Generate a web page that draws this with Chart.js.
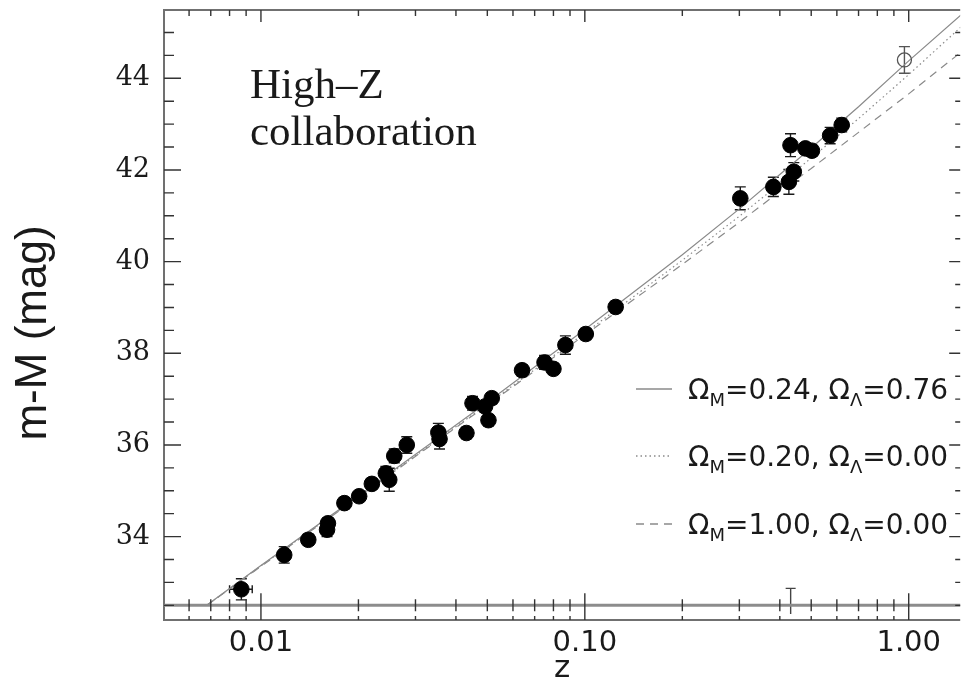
<!DOCTYPE html>
<html>
<head>
<meta charset="utf-8">
<title>High-Z collaboration Hubble diagram</title>
<script src="https://cdn.jsdelivr.net/npm/chart.js@4.4.1/dist/chart.umd.min.js"></script>
<style>
  html, body { margin: 0; padding: 0; background: #fff; overflow: hidden; }
  #wrap { width: 969px; height: 684px; }
  #hubble { display: block; }
</style>
</head>
<body>
<div id="wrap"><canvas id="hubble" width="969" height="684"></canvas></div>
<script>
// ── Data ──────────────────────────────────────────────────────────────────────
// supernovae, filled circles
const snZ   = [0.0087, 0.0118, 0.0140, 0.0160, 0.0161, 0.0181, 0.0201, 0.0220, 0.0243, 0.0249,
               0.0258, 0.0282, 0.0353, 0.0356, 0.0431, 0.0450, 0.0492, 0.0504, 0.0516, 0.0640,
               0.0751, 0.0800, 0.0871, 0.1007, 0.1245, 0.302, 0.382, 0.4266, 0.4418, 0.4315,
               0.4797, 0.5026, 0.572, 0.621];
const snMu  = [32.85, 33.60, 33.93, 34.15, 34.29, 34.73, 34.88, 35.15, 35.38, 35.24,
               35.76, 36.00, 36.27, 36.13, 36.26, 36.91, 36.84, 36.54, 37.02, 37.63,
               37.80, 37.66, 38.18, 38.42, 39.01, 41.38, 41.63, 41.74, 41.96, 42.54,
               42.47, 42.42, 42.75, 42.98];
const snErr = [0.23, 0.18, 0.12, 0.15, 0.12, 0.12, 0.10, 0.12, 0.15, 0.25,
               0.15, 0.18, 0.20, 0.22, 0.12, 0.15, 0.12, 0.12, 0.12, 0.12,
               0.15, 0.12, 0.20, 0.12, 0.12, 0.25, 0.21, 0.27, 0.20, 0.25,
               0.12, 0.12, 0.18, 0.15];
const snZErr = [0.0007, 0.0005];   // only the nearest ones show a z error bar

// open circle
const openZ   = [0.970];
const openMu  = [44.40];
const openErr = [0.29];

// error bar poking up from the (cropped) lower panel
const cutZ   = [0.432];
const cutTop = [32.87];

// model curves
const modelZ   = [0.0068, 0.01, 0.02, 0.05, 0.1, 0.2, 0.3, 0.4, 0.5, 0.7, 1.0, 1.45];
const muLambda = [32.50, 33.37, 34.89, 36.93, 38.52, 40.15, 41.15, 41.90, 42.48, 43.38, 44.38, 45.38];
const muOpen   = [32.50, 33.36, 34.87, 36.89, 38.44, 40.03, 40.99, 41.70, 42.26, 43.12, 44.08, 45.12];
const muEdS    = [32.50, 33.35, 34.86, 36.87, 38.40, 39.94, 40.86, 41.53, 42.03, 42.82, 43.66, 44.57];
const modelLabels = ['Ω_M=0.24, Ω_Λ=0.76', 'Ω_M=0.20, Ω_Λ=0.00', 'Ω_M=1.00, Ω_Λ=0.00'];

// axes
const xMajorTicks = [0.01, 0.1, 1];
const xTickLabels = ['0.01', '0.10', '1.00'];
const xMinorTicks = [0.006, 0.007, 0.008, 0.009,
                     0.02, 0.03, 0.04, 0.05, 0.06, 0.07, 0.08, 0.09,
                     0.2, 0.3, 0.4, 0.5, 0.6, 0.7, 0.8, 0.9];
const yMajorTicks = [34, 36, 38, 40, 42, 44];
const yMinorTicks = [32.5, 33, 33.5, 34.5, 35, 35.5, 36.5, 37, 37.5, 38.5, 39, 39.5,
                     40.5, 41, 41.5, 42.5, 43, 43.5, 44.5, 45];
const xMin = 0.00502, xMax = 1.442;
const yMin = 32.18, yMax = 45.49;
const baseLine = 32.5;   // grey rule the lower panel started on

// ── Style ─────────────────────────────────────────────────────────────────────
const INK = '#1a1a1a';
const FRAME = '#707070';
const MODEL = '#8a8a8a';
const modelDash = [[], [1.5, 3], [8, 6]];

const pts = (xs, ys) => xs.map((x, i) => ({ x, y: ys[i] }));

// ── Helpers ───────────────────────────────────────────────────────────────────
// split 'Ω_M=0.24' into runs, '_' puts the next char in subscript
function runs(str) {
    const out = [];
    let buf = '';
    for (let i = 0; i < str.length; i++) {
        if (str[i] === '_') {
            if (buf) out.push({ t: buf, sub: false });
            out.push({ t: str[++i], sub: true });
            buf = '';
        } else buf += str[i];
    }
    if (buf) out.push({ t: buf, sub: false });
    return out;
}

function drawRich(ctx, str, x, y, size, subSize) {
    for (const r of runs(str)) {
        ctx.font = `${r.sub ? subSize : size}px "DejaVu Sans"`;
        ctx.fillText(r.t, x, r.sub ? y + 7 : y);
        x += ctx.measureText(r.t).width;
    }
}

// ── Plugins ───────────────────────────────────────────────────────────────────
const errorBars = {
    id: 'errorBars',
    beforeDatasetsDraw(chart) {
        const { ctx, chartArea: a, scales: { x, y } } = chart;
        ctx.save();
        ctx.beginPath();
        ctx.rect(a.left, a.top, a.right - a.left, a.bottom - a.top);
        ctx.clip();
        const cap = 5.5;
        const draw = (zs, mus, errs, col) => {
            ctx.strokeStyle = col;
            ctx.lineWidth = 1.4;
            zs.forEach((z, i) => {
                const px = x.getPixelForValue(z);
                const hi = y.getPixelForValue(mus[i] + errs[i]);
                const lo = y.getPixelForValue(mus[i] - errs[i]);
                ctx.beginPath();
                ctx.moveTo(px, hi); ctx.lineTo(px, lo);
                ctx.moveTo(px - cap, hi); ctx.lineTo(px + cap, hi);
                ctx.moveTo(px - cap, lo); ctx.lineTo(px + cap, lo);
                ctx.stroke();
            });
        };
        draw(snZ, snMu, snErr, INK);
        draw(openZ, openMu, openErr, '#555');

        // horizontal (z) error bars
        ctx.strokeStyle = INK;
        snZErr.forEach((e, i) => {
            const py = y.getPixelForValue(snMu[i]);
            const l = x.getPixelForValue(snZ[i] - e);
            const r = x.getPixelForValue(snZ[i] + e);
            ctx.beginPath();
            ctx.moveTo(l, py); ctx.lineTo(r, py);
            ctx.moveTo(l, py - 4); ctx.lineTo(l, py + 4);
            ctx.moveTo(r, py - 4); ctx.lineTo(r, py + 4);
            ctx.stroke();
        });

        // stray bar from the panel below, cap on top only
        ctx.strokeStyle = '#444';
        cutZ.forEach((z, i) => {
            const px = x.getPixelForValue(z);
            const hi = y.getPixelForValue(cutTop[i]);
            ctx.beginPath();
            ctx.moveTo(px, hi); ctx.lineTo(px, a.bottom - 6);
            ctx.moveTo(px - 5, hi); ctx.lineTo(px + 5, hi);
            ctx.stroke();
        });
        ctx.restore();
    }
};

const frame = {
    id: 'frame',
    afterDraw(chart) {
        const { ctx, chartArea: a, scales: { x, y } } = chart;
        const base = y.getPixelForValue(baseLine);
        ctx.save();

        // frame: left, top, bottom (right edge is cut by the crop)
        ctx.strokeStyle = FRAME;
        ctx.lineWidth = 2;
        ctx.beginPath();
        ctx.moveTo(a.right, a.top); ctx.lineTo(a.left, a.top);
        ctx.lineTo(a.left, a.bottom); ctx.lineTo(a.right, a.bottom);
        ctx.stroke();

        // thick grey rule at the foot of the panel
        ctx.strokeStyle = '#8c8c8c';
        ctx.lineWidth = 3;
        ctx.beginPath();
        ctx.moveTo(a.left, base); ctx.lineTo(a.right, base);
        ctx.stroke();

        // x ticks: top frame, on the rule, on the bottom frame
        ctx.strokeStyle = '#333';
        ctx.lineWidth = 1.4;
        const xt = (v, major) => {
            const px = x.getPixelForValue(v);
            ctx.beginPath();
            ctx.moveTo(px, a.top); ctx.lineTo(px, a.top + (major ? 12 : 6));
            if (major) { ctx.moveTo(px, base - 12); ctx.lineTo(px, a.bottom); }
            else {
                ctx.moveTo(px, base - 6); ctx.lineTo(px, base + 6);
                ctx.moveTo(px, a.bottom); ctx.lineTo(px, a.bottom - 4);
            }
            ctx.stroke();
        };
        xMinorTicks.forEach(v => xt(v, false));
        xMajorTicks.forEach(v => xt(v, true));

        // y ticks, inward on both sides
        const yt = (v, major) => {
            const py = y.getPixelForValue(v);
            ctx.beginPath();
            ctx.moveTo(a.left, py); ctx.lineTo(a.left + (major ? 17 : 10), py);
            ctx.moveTo(a.right, py); ctx.lineTo(a.right - (major ? 11 : 5), py);
            ctx.stroke();
        };
        yMinorTicks.forEach(v => yt(v, false));
        yMajorTicks.forEach(v => yt(v, true));

        // y title
        ctx.fillStyle = INK;
        ctx.font = '44px "Liberation Sans"';
        ctx.textAlign = 'center';
        ctx.textBaseline = 'middle';
        ctx.translate(34, 333);
        ctx.rotate(-Math.PI / 2);
        ctx.fillText('m-M (mag)', 0, 0);
        ctx.setTransform(1, 0, 0, 1, 0, 0);

        // annotation
        ctx.textAlign = 'left';
        ctx.textBaseline = 'alphabetic';
        ctx.font = '43px "Liberation Serif"';
        ctx.fillText('High–Z', 250, 98);
        ctx.fillText('collaboration', 250, 145);

        // legend
        const rows = [399, 466, 534];
        rows.forEach((by, i) => {
            ctx.strokeStyle = MODEL;
            ctx.lineWidth = 1.3;
            ctx.setLineDash(modelDash[i]);
            ctx.beginPath();
            ctx.moveTo(636, by - 10); ctx.lineTo(672, by - 10);
            ctx.stroke();
            ctx.setLineDash([]);
            ctx.fillStyle = INK;
            drawRich(ctx, modelLabels[i], 688, by, 28, 18);
        });
        ctx.restore();
    }
};

// ── Chart ─────────────────────────────────────────────────────────────────────
const modelSet = (ys, i) => ({
    label: modelLabels[i],
    data: pts(modelZ, ys),
    showLine: true,
    pointRadius: 0,
    borderColor: MODEL,
    borderWidth: 1.2,
    borderDash: modelDash[i],
    order: 3
});

new Chart(document.getElementById('hubble'), {
    type: 'scatter',
    data: {
        datasets: [
            {
                label: 'SNe Ia',
                data: pts(snZ, snMu),
                pointRadius: 7.8,
                pointBackgroundColor: '#000',
                pointBorderColor: '#000',
                order: 1
            },
            {
                label: 'open',
                data: pts(openZ, openMu),
                pointRadius: 7,
                pointBackgroundColor: 'rgba(0,0,0,0)',
                pointBorderColor: '#555',
                pointBorderWidth: 1.3,
                order: 2
            },
            modelSet(muLambda, 0),
            modelSet(muOpen, 1),
            modelSet(muEdS, 2)
        ]
    },
    options: {
        responsive: false,
        animation: false,
        layout: { padding: { top: 10, right: 0, bottom: 0, left: 0 } },
        plugins: { legend: { display: false }, tooltip: { enabled: false } },
        scales: {
            x: {
                type: 'logarithmic',
                min: xMin, max: xMax,
                afterBuildTicks: s => { s.ticks = xMajorTicks.map(v => ({ value: v })); },
                afterFit: s => { s.height = 64; s.paddingLeft = 0; s.paddingRight = 0; },
                grid: { display: false, drawTicks: false },
                border: { display: false },
                ticks: {
                    autoSkip: false, maxRotation: 0, padding: 9,
                    color: INK,
                    font: { family: 'DejaVu Sans', size: 29, lineHeight: 1 },
                    callback: (v, i) => xTickLabels[i]
                },
                title: {
                    display: true, text: 'z', color: INK,
                    font: { family: 'DejaVu Sans', size: 31, lineHeight: 1 },
                    padding: { top: 0, bottom: 0 }
                }
            },
            y: {
                min: yMin, max: yMax,
                afterBuildTicks: s => { s.ticks = yMajorTicks.map(v => ({ value: v })); },
                afterFit: s => { s.width = 164; s.paddingTop = 0; s.paddingBottom = 0; },
                grid: { display: false, drawTicks: false },
                border: { display: false },
                ticks: {
                    padding: 14,
                    color: INK,
                    font: { family: 'DejaVu Serif', size: 27, lineHeight: 1 },
                    callback: v => String(v)
                }
            }
        }
    },
    plugins: [errorBars, frame]
});
</script>
</body>
</html>
